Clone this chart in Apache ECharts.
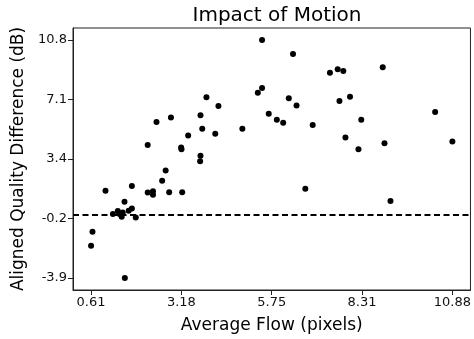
<!DOCTYPE html>
<html>
<head>
<meta charset="utf-8">
<script src="https://cdn.jsdelivr.net/npm/echarts@6/dist/echarts.min.js"></script>
<style>
html,body{margin:0;padding:0;background:#fff;}
#c{width:474px;height:339px;}
</style>
</head>
<body>
<div id="c"></div>
<script>
// Data
var flow = [5.47, 6.35, 7.40, 7.62, 7.78, 8.90, 5.47, 5.35, 3.89, 4.23,
            6.23, 6.45, 7.67, 7.97, 3.72, 5.66, 5.89, 6.07, 3.77, 4.14,
            4.91, 6.91, 8.29, 7.84, 8.21, 8.95, 10.88, 10.39, 2.47, 2.88,
            3.37, 2.22, 3.17, 3.18, 3.72, 3.71, 2.73, 2.63, 1.02, 1.77,
            2.22, 2.37, 2.37, 2.83, 3.20, 6.70, 9.12, 1.56, 1.77, 1.23,
            1.68, 1.37, 1.45, 1.51, 1.48, 1.41, 1.88, 0.65, 0.61, 1.57];
var quality = [10.82, 9.94, 8.78, 9.00, 8.90, 9.13, 7.84, 7.55, 7.27, 6.72,
               7.21, 6.76, 7.03, 7.29, 6.15, 6.25, 5.88, 5.68, 5.32, 5.01,
               5.32, 5.54, 5.88, 4.77, 4.05, 4.42, 4.52, 6.36, 5.74, 6.01,
               4.89, 4.31, 4.15, 4.05, 3.64, 3.30, 2.72, 2.09, 1.48, 1.77,
               1.36, 1.44, 1.22, 1.38, 1.38, 1.60, 0.83, 0.79, 0.38, 0.03,
               0.24, 0.21, 0.01, 0.13, -0.14, 0.04, -0.19, -1.07, -1.93, -3.94];
var xTickValues = [0.61, 3.1775, 5.745, 8.3125, 10.88];
var xTickLabels = ['0.61', '3.18', '5.75', '8.31', '10.88'];
var yTickValues = [-3.94, -0.25, 3.44, 7.13, 10.82];
var yTickLabels = ['-3.9', '-0.2', '3.4', '7.1', '10.8'];
var refLine = [0];

var points = flow.map(function (x, i) { return [x, quality[i]]; });
function labelFor(vals, labels) {
  return function (v) {
    var best = 0;
    for (var i = 1; i < vals.length; i++) {
      if (Math.abs(vals[i] - v) < Math.abs(vals[best] - v)) best = i;
    }
    return labels[best];
  };
}
var font = 'DejaVu Sans';
var chart = echarts.init(document.getElementById('c'), null, {renderer: 'canvas'});
chart.setOption({
  animation: false,
  backgroundColor: '#fff',
  title: {
    text: 'Impact of Motion',
    left: 272, top: 1,
    textAlign: 'center',
    textStyle: {fontFamily: font, fontSize: 20, fontWeight: 'normal', color: '#000'}
  },
  grid: {left: 73, right: 3, top: 28, bottom: 46, show: true, borderColor: '#222', borderWidth: 1, containLabel: false},
  xAxis: {
    type: 'value', min: 0.0965, max: 11.3935,
    name: 'Average Flow (pixels)', nameLocation: 'middle', nameGap: 27,
    nameTextStyle: {fontFamily: font, fontSize: 17, color: '#000'},
    axisLine: {show: true, onZero: false, lineStyle: {color: '#222', width: 1}},
    axisTick: {show: true, length: 5, customValues: xTickValues, lineStyle: {color: '#222'}},
    axisLabel: {customValues: xTickValues, formatter: labelFor(xTickValues, xTickLabels),
      fontFamily: font, fontSize: 13, color: '#111', margin: 6},
    splitLine: {show: false}
  },
  yAxis: {
    type: 'value', min: -4.678, max: 11.558,
    name: 'Aligned Quality Difference (dB)', nameLocation: 'middle', nameGap: 44,
    nameTextStyle: {fontFamily: font, fontSize: 17, color: '#000'},
    axisLine: {show: true, onZero: false, lineStyle: {color: '#222', width: 1}},
    axisTick: {show: true, length: 5, customValues: yTickValues, lineStyle: {color: '#222'}},
    axisLabel: {customValues: yTickValues, formatter: labelFor(yTickValues, yTickLabels),
      fontFamily: font, fontSize: 13, color: '#111', margin: 6},
    splitLine: {show: false}
  },
  series: [{
    type: 'scatter',
    data: points,
    symbol: 'circle',
    symbolSize: 6,
    itemStyle: {color: '#000', opacity: 1},
    markLine: {
      silent: true,
      symbol: ['none', 'none'],
      label: {show: false},
      lineStyle: {color: '#000', type: [6, 3.5], width: 2},
      data: refLine.map(function (v) { return {yAxis: v}; })
    }
  }]
});
</script>
</body>
</html>
